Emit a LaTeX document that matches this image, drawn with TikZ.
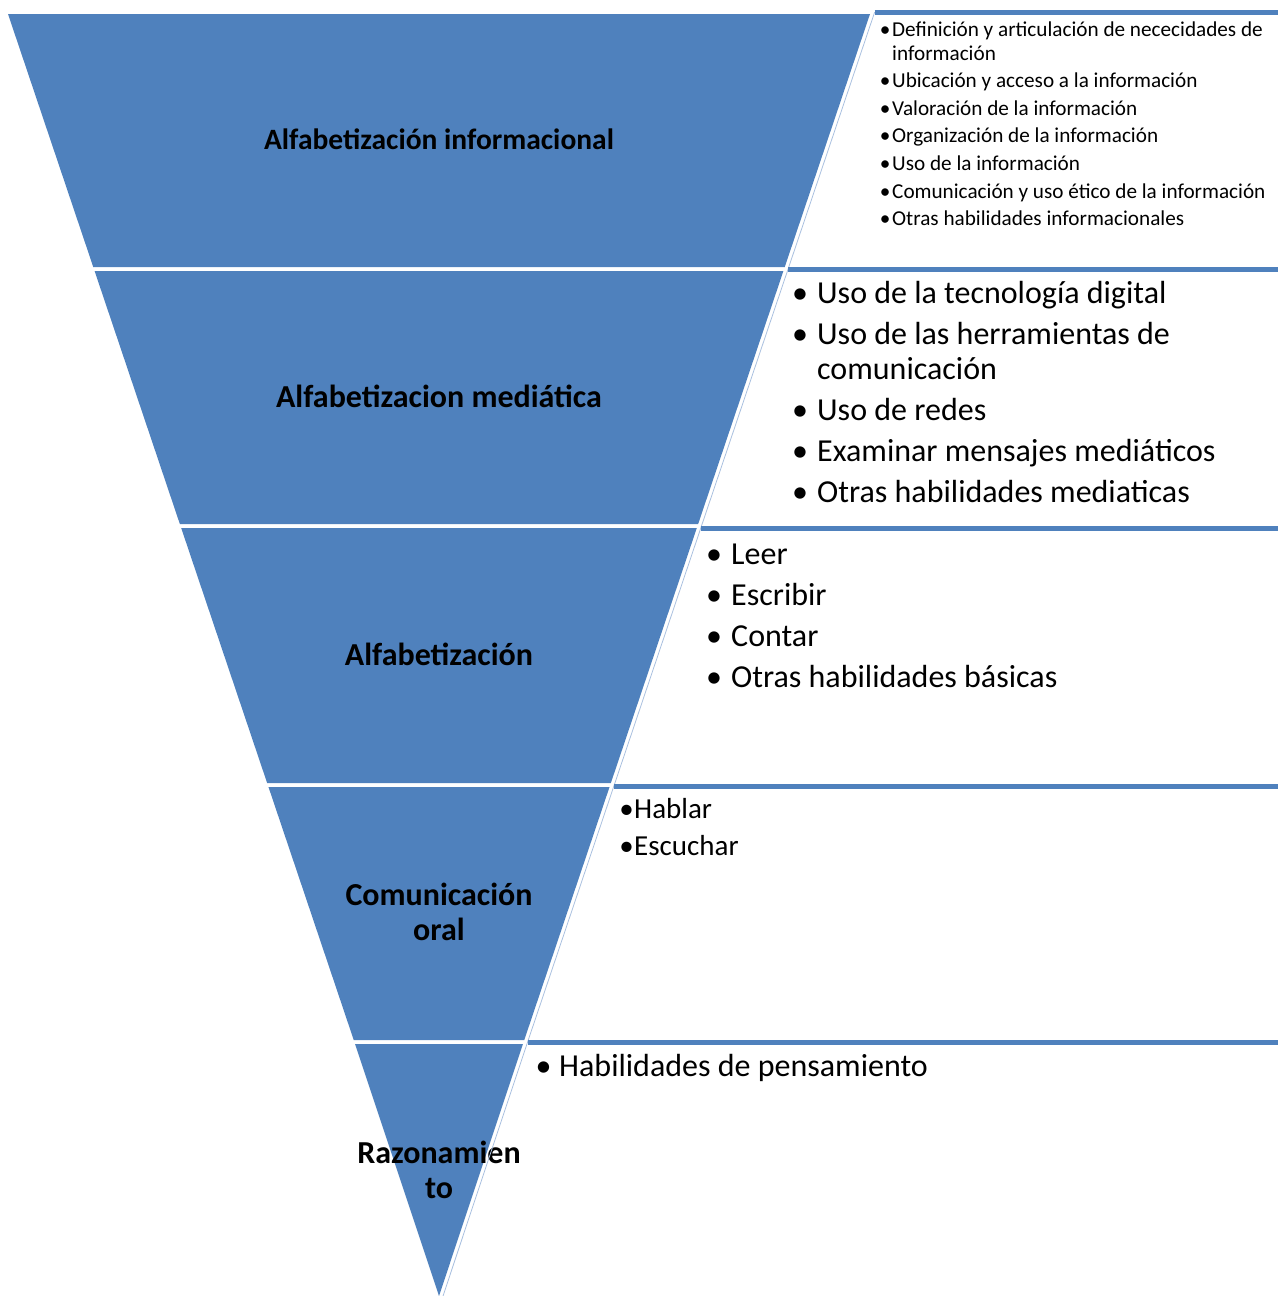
\documentclass[tikz,border=0pt]{standalone}
\usepackage{fontspec}
\setmainfont{Carlito}
\definecolor{bandblue}{HTML}{4F81BD}
\definecolor{edgeblue}{HTML}{A9C0DF}
\newcommand{\blt}[1]{\makebox[#1][c]{\textbullet}}
\tikzset{
  band/.style={fill=bandblue},
  boxtop/.style={draw=bandblue, line width=5pt},
  boxside/.style={draw=edgeblue, line width=0.8pt},
  level/.style={font=\fontsize{32}{35}\selectfont\bfseries, align=center, inner sep=0pt},
  items/.style={anchor=base west, inner sep=0pt}
}

\begin{document}
\begin{tikzpicture}[x=1pt, y=-1pt]
  \useasboundingbox (0,0) rectangle (1278,1296);
  \coordinate (R) at (1278,0);
  % inverted pyramid
  \fill[band] (8,14) -- (870,14) -- (784.75,267) -- (93.25,267) -- cycle;
  \fill[band] (94.6,271) -- (783.4,271) -- (698.15,524) -- (179.85,524) -- cycle;
  \fill[band] (181.2,528) -- (696.8,528) -- (610.87,783) -- (267.13,783) -- cycle;
  \fill[band] (268.48,787) -- (609.52,787) -- (524.27,1040) -- (353.73,1040) -- cycle;
  \fill[band] (355.08,1044) -- (522.92,1044) -- (439,1296) -- cycle;
  \node[level, font=\fontsize{29.5}{33}\selectfont\bfseries] (lv1) at (439,139) {Alfabetización informacional};
  \node[level] (lv2) at (439,396) {Alfabetizacion mediática};
  \node[level] (lv3) at (439,654) {Alfabetización};
  \node[level] (lv4) at (439,912) {Comunicación\\oral};
  \node[level] (lv5) at (439,1170) {Razonamien\\to};
  % boxes at the right
  \coordinate (b1) at (874.7,12);
  \coordinate (b2) at (788.1,269);
  \coordinate (b3) at (700.8,528);
  \coordinate (b4) at (613.9,786);
  \coordinate (b5) at (527.6,1042);
  \coordinate (b6) at (443,1296);
  \draw[boxside] (b1) -- (b2) -- (b3) -- (b4) -- (b5) -- (b6);
  \draw[boxtop] (b1) -- (b1 -| R);
  \draw[boxtop] (b2) -- (b2 -| R);
  \draw[boxtop] (b3) -- (b3 -| R);
  \draw[boxtop] (b4) -- (b4 -| R);
  \draw[boxtop] (b5) -- (b5 -| R);
  \node[items, font=\fontsize{21.2}{24}\selectfont] (info) at (878,36) {%
    \begin{tabular}[t]{@{}l@{}l@{}}
      \blt{14pt} & Definición y articulación de nececidades de\\
                 & información\\[3.6pt]
      \blt{14pt} & Ubicación y acceso a la información\\[3.6pt]
      \blt{14pt} & Valoración de la información\\[3.6pt]
      \blt{14pt} & Organización de la información\\[3.6pt]
      \blt{14pt} & Uso de la información\\[3.6pt]
      \blt{14pt} & Comunicación y uso ético de la información\\[3.6pt]
      \blt{14pt} & Otras habilidades informacionales
    \end{tabular}};
  \node[items, font=\fontsize{32}{35}\selectfont] (media) at (783,303) {%
    \begin{tabular}[t]{@{}l@{}l@{}}
      \blt{34pt} & Uso de la tecnología digital\\[6pt]
      \blt{34pt} & Uso de las herramientas de\\
                 & comunicación\\[6pt]
      \blt{34pt} & Uso de redes\\[6pt]
      \blt{34pt} & Examinar mensajes mediáticos\\[6pt]
      \blt{34pt} & Otras habilidades mediaticas
    \end{tabular}};
  \node[items, font=\fontsize{32}{35}\selectfont] (basic) at (697,564) {%
    \begin{tabular}[t]{@{}l@{}l@{}}
      \blt{34pt} & Leer\\[6pt]
      \blt{34pt} & Escribir\\[6pt]
      \blt{34pt} & Contar\\[6pt]
      \blt{34pt} & Otras habilidades básicas
    \end{tabular}};
  \node[items, font=\fontsize{29}{32}\selectfont] (oral) at (619,818) {%
    \begin{tabular}[t]{@{}l@{}l@{}}
      \blt{15pt} & Hablar\\[5pt]
      \blt{15pt} & Escuchar
    \end{tabular}};
  \node[items, font=\fontsize{32}{35}\selectfont] (think) at (528,1076) {%
    \begin{tabular}[t]{@{}l@{}l@{}}
      \blt{31pt} & Habilidades de pensamiento
    \end{tabular}};
\end{tikzpicture}
\end{document}
